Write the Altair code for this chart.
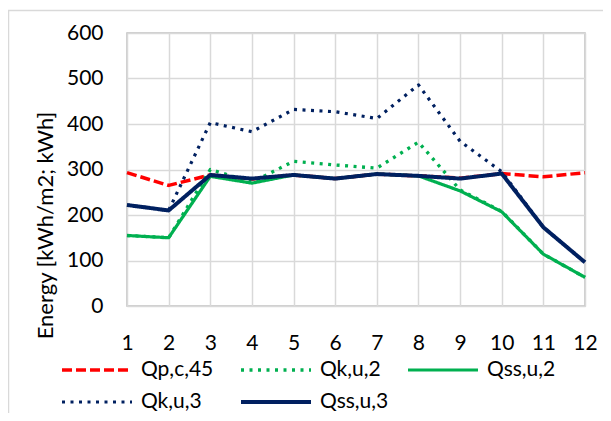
import altair as alt
import pandas as pd

months = list(range(1, 13))
series_names = ["Qp,c,45", "Qk,u,2", "Qss,u,2", "Qk,u,3", "Qss,u,3"]
qp_c_45 = [293, 265, 288, 279, 288, 280, 290, 286, 281, 291, 284, 293]
qk_u_2 = [155, 150, 300, 272, 318, 310, 303, 360, 255, 208, 114, 63]
qss_u_2 = [155, 150, 285, 270, 288, 280, 290, 286, 253, 207, 114, 63]
qk_u_3 = [222, 210, 403, 383, 432, 427, 412, 486, 362, 295, 173, 96]
qss_u_3 = [222, 210, 288, 280, 288, 280, 290, 286, 280, 291, 173, 96]

colors = ["#ff0000", "#00b050", "#00b050", "#002060", "#002060"]
dashes = [[10, 4], [3, 5.5], [1, 0], [3, 5.5], [1, 0]]
widths = [3.5, 3.2, 4, 3.2, 4]

rows = []
for name, vals in zip(series_names, [qp_c_45, qk_u_2, qss_u_2, qk_u_3, qss_u_3]):
    for m, v in zip(months, vals):
        rows.append({"month": m, "value": v, "series": name})
df = pd.DataFrame(rows)

FONT = "Lato"


def make_legend(legend_y, col_pad):
    return alt.Legend(title=None, orient="none", legendX=-67, legendY=legend_y,
                      columns=3, direction="horizontal", symbolType="stroke",
                      symbolSize=4900, symbolStrokeWidth=3.5, labelOffset=7,
                      columnPadding=col_pad,
                      labelFontSize=21, labelFont=FONT, labelColor="#000000")


x_enc = alt.X("month:Q", scale=alt.Scale(domain=[1, 12], nice=False),
              axis=alt.Axis(values=months, title=None, ticks=False, labelPadding=26,
                            grid=True, domain=False, labelFlush=False))
y_enc = alt.Y("value:Q", scale=alt.Scale(domain=[0, 600], nice=False),
              axis=alt.Axis(values=[0, 100, 200, 300, 400, 500, 600],
                            title="Energy [kWh/m2; kWh]", ticks=False, labelPadding=24,
                            domain=False, titleX=-75, titleY=192, titleAngle=270,
                            titleAlign="center", titleBaseline="alphabetic",
                            titleFontSize=22))


def line_layer(idx, legend_y, col_pad):
    names = [series_names[i] for i in idx]
    sub = df[df["series"].isin(names)]
    return alt.Chart(sub).mark_line(strokeJoin="round").encode(
        x=x_enc,
        y=y_enc,
        color=alt.Color("series:N",
                        scale=alt.Scale(domain=names, range=[colors[i] for i in idx]),
                        legend=make_legend(legend_y, col_pad)),
        strokeDash=alt.StrokeDash("series:N",
                                  scale=alt.Scale(domain=names, range=[dashes[i] for i in idx]),
                                  legend=make_legend(legend_y, col_pad)),
        strokeWidth=alt.StrokeWidth("series:N",
                                    scale=alt.Scale(domain=names, range=[widths[i] for i in idx]),
                                    legend=None),
    )


row1 = line_layer([0, 1, 2], 300, 20)
row2 = line_layer([3, 4], 332, 31)

frame = alt.Chart(pd.DataFrame({"k": [0]})).mark_rect(
    fill=None, stroke="#d9d9d9", strokeWidth=1.5
).encode(x=alt.value(-118.5), y=alt.value(-22.5), x2=alt.value(900), y2=alt.value(900))

chart = alt.layer(frame, row1, row2).resolve_scale(
    color="independent", strokeDash="independent", strokeWidth="independent"
).properties(
    width=458, height=273,
    background="#ffffff",
    autosize=alt.AutoSizeParams(type="none"),
    padding={"left": 119, "top": 25, "right": 18, "bottom": 107},
).configure_view(
    stroke="#bfbfbf", strokeWidth=1.5
).configure_axis(
    labelFont=FONT, labelFontSize=21, labelColor="#000000",
    titleFont=FONT, titleColor="#000000", titleFontWeight="normal",
    gridColor="#d9d9d9", gridWidth=1.5,
)

chart.save("out.html", embed_options={"renderer": "svg", "actions": False})
